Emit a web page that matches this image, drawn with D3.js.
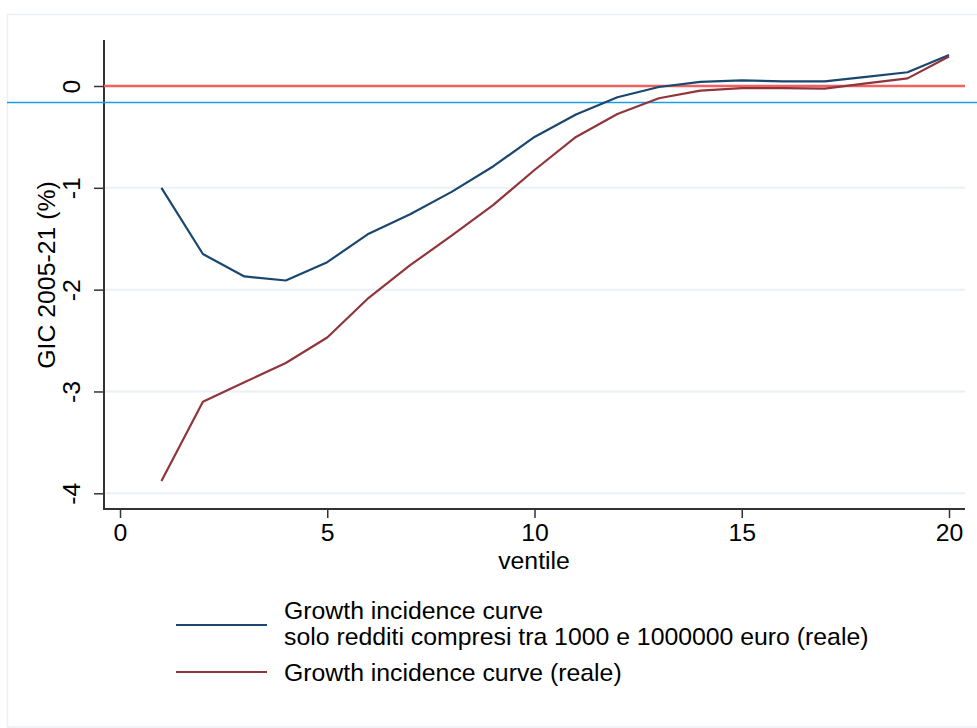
<!DOCTYPE html>
<html><head><meta charset="utf-8">
<script src="https://cdn.jsdelivr.net/npm/d3@7"></script>
<style>body{margin:0;background:#fff}svg{display:block}text{font-family:"Liberation Sans",Arial,sans-serif;fill:#000}</style>
</head><body>
<script>
const ventiles = d3.range(1, 21);
const gicTrimmed = [-1.00,-1.65,-1.87,-1.91,-1.73,-1.45,-1.26,-1.04,-0.79,-0.50,-0.28,-0.11,-0.01,0.04,0.055,0.045,0.045,0.09,0.135,0.305];
const gicReal = [-3.88,-3.10,-2.91,-2.72,-2.47,-2.08,-1.76,-1.47,-1.17,-0.825,-0.50,-0.275,-0.12,-0.045,-0.02,-0.02,-0.025,0.025,0.075,0.29];
const xTicks = [0,5,10,15,20];
const yTicks = [0,-1,-2,-3,-4];
const refZero = 0;
const refMean = -0.157;
const legendLabels = [["Growth incidence curve","solo redditi compresi tra 1000 e 1000000 euro (reale)"],["Growth incidence curve (reale)"]];
const seriesColors = ["#1a476f","#90353b"];

(function(){
const W = 977, H = 728, FS = 24.8;
const svg = d3.select("body").append("svg").attr("width",W).attr("height",H);
svg.append("rect").attr("x",7.5).attr("y",14.5).attr("width",980).attr("height",712.5)
  .attr("fill","#fff").attr("stroke","#eaf0f3").attr("stroke-width",1.5);

const x = d3.scaleLinear().domain([0,20]).range([120,949]);
const y = d3.scaleLinear().domain([0,-4]).range([86,493.3]);
const pl = 104, pr = 965, pt = 40, pb = 509;

svg.append("g").selectAll("line").data(yTicks).join("line")
  .attr("x1",pl).attr("x2",pr).attr("y1",d=>y(d)).attr("y2",d=>y(d))
  .attr("stroke","#eaf0f3").attr("stroke-width",2);

const yAxis = d3.axisLeft(y).tickValues(yTicks).tickSize(10).tickSizeOuter(0).tickFormat(d=>String(d));
const gy = svg.append("g").attr("transform",`translate(${pl},0)`).call(yAxis);
gy.select(".domain").attr("d",`M0,${pt}V${pb}`).attr("stroke","#333").attr("stroke-width",2);
gy.selectAll(".tick line").attr("stroke","#333").attr("stroke-width",1.5);
gy.selectAll(".tick text").attr("font-size",FS).attr("font-family","Liberation Sans, Arial, sans-serif")
  .attr("fill","#000").attr("text-anchor","middle").attr("x",0).attr("y",0).attr("dy",0)
  .attr("transform","translate(-24,0) rotate(-90)");

const xAxis = d3.axisBottom(x).tickValues(xTicks).tickSize(9).tickSizeOuter(0).tickFormat(d=>String(d));
const gx = svg.append("g").attr("transform",`translate(0,${pb})`).call(xAxis);
gx.select(".domain").attr("d",`M${pl-1},0H${pr}`).attr("stroke","#333").attr("stroke-width",2);
gx.selectAll(".tick line").attr("stroke","#333").attr("stroke-width",1.5);
gx.selectAll(".tick text").attr("font-size",FS).attr("font-family","Liberation Sans, Arial, sans-serif")
  .attr("fill","#000").attr("y",14).attr("dy","0.71em");

svg.append("text").attr("x",534).attr("y",569).attr("text-anchor","middle").attr("font-size",FS).text("ventile");
svg.append("text").attr("transform","translate(55,275) rotate(-90)").attr("text-anchor","middle").attr("font-size",FS).text("GIC 2005-21 (%)");

svg.append("line").attr("x1",pl).attr("x2",pr).attr("y1",y(refZero)).attr("y2",y(refZero))
  .attr("stroke","#f06262").attr("stroke-width",2.5);
svg.append("line").attr("x1",7).attr("x2",W).attr("y1",Math.round(y(refMean))+0.5).attr("y2",Math.round(y(refMean))+0.5)
  .attr("stroke","#1c9ee0").attr("stroke-width",1.3);

const line = d3.line().x((d,i)=>x(ventiles[i])).y(d=>y(d));
[gicTrimmed, gicReal].forEach((s,k)=>{
  svg.append("path").attr("d",line(s)).attr("fill","none").attr("stroke",seriesColors[k])
    .attr("stroke-width",2.2).attr("stroke-linejoin","round");
});

const lg = svg.append("g");
lg.append("line").attr("x1",176).attr("x2",267).attr("y1",625).attr("y2",625).attr("stroke",seriesColors[0]).attr("stroke-width",2.2);
lg.append("text").attr("x",284).attr("y",619).attr("font-size",FS).text(legendLabels[0][0]);
lg.append("text").attr("x",284).attr("y",645).attr("font-size",FS).text(legendLabels[0][1]);
lg.append("line").attr("x1",176).attr("x2",267).attr("y1",672).attr("y2",672).attr("stroke",seriesColors[1]).attr("stroke-width",2.2);
lg.append("text").attr("x",284).attr("y",681).attr("font-size",FS).text(legendLabels[1][0]);
})();
</script>
</body></html>
